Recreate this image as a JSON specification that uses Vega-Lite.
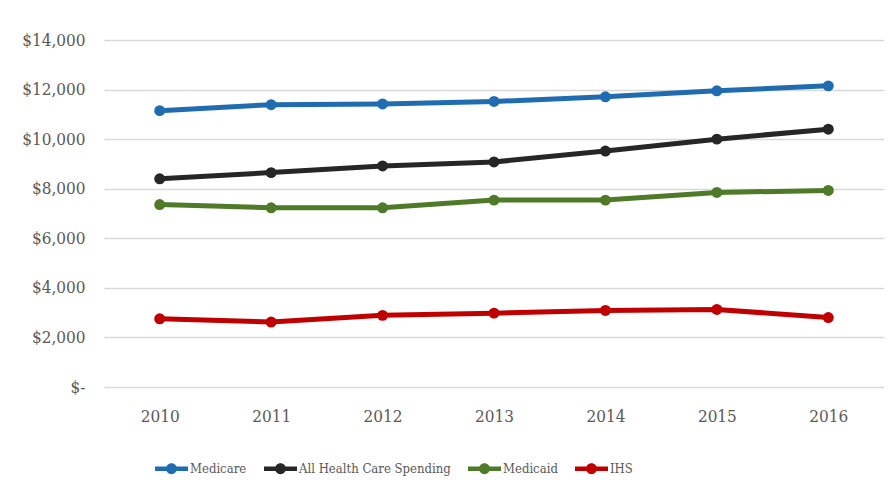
{
  "$schema": "https://vega.github.io/schema/vega-lite/v6.json",
  "autosize": "none",
  "width": 780,
  "height": 347,
  "padding": {"left": 104, "top": 40, "right": 12, "bottom": 115},
  "background": "white",
  "config": {
    "view": {"stroke": null},
    "font": "'DejaVu Serif Condensed', 'Liberation Serif', serif",
    "axis": {"labelFont": "'DejaVu Serif Condensed', 'Liberation Serif', serif", "labelFontSize": 17, "labelColor": "#595959", "ticks": false, "domain": false},
    "legend": {"labelFont": "'DejaVu Serif Condensed', 'Liberation Serif', serif", "labelFontSize": 13, "labelColor": "#595959", "labelLimit": 400}
  },
  "data": {
    "values": [
      {"year": "2010", "series": "Medicare", "value": 11150},
      {"year": "2011", "series": "Medicare", "value": 11390},
      {"year": "2012", "series": "Medicare", "value": 11420},
      {"year": "2013", "series": "Medicare", "value": 11520},
      {"year": "2014", "series": "Medicare", "value": 11710},
      {"year": "2015", "series": "Medicare", "value": 11950},
      {"year": "2016", "series": "Medicare", "value": 12150},
      {"year": "2010", "series": "All Health Care Spending", "value": 8400},
      {"year": "2011", "series": "All Health Care Spending", "value": 8650},
      {"year": "2012", "series": "All Health Care Spending", "value": 8920},
      {"year": "2013", "series": "All Health Care Spending", "value": 9080},
      {"year": "2014", "series": "All Health Care Spending", "value": 9520},
      {"year": "2015", "series": "All Health Care Spending", "value": 10000},
      {"year": "2016", "series": "All Health Care Spending", "value": 10400},
      {"year": "2010", "series": "Medicaid", "value": 7360},
      {"year": "2011", "series": "Medicaid", "value": 7230},
      {"year": "2012", "series": "Medicaid", "value": 7230},
      {"year": "2013", "series": "Medicaid", "value": 7540},
      {"year": "2014", "series": "Medicaid", "value": 7540},
      {"year": "2015", "series": "Medicaid", "value": 7850},
      {"year": "2016", "series": "Medicaid", "value": 7930},
      {"year": "2010", "series": "IHS", "value": 2750},
      {"year": "2011", "series": "IHS", "value": 2620},
      {"year": "2012", "series": "IHS", "value": 2890},
      {"year": "2013", "series": "IHS", "value": 2980},
      {"year": "2014", "series": "IHS", "value": 3090},
      {"year": "2015", "series": "IHS", "value": 3130},
      {"year": "2016", "series": "IHS", "value": 2800}
    ]
  },
  "encoding": {
    "x": {
      "field": "year", "type": "ordinal",
      "scale": {"type": "point", "padding": 0.5},
      "axis": {"title": null, "labelAngle": 0, "labelPadding": 21, "grid": false}
    },
    "y": {
      "field": "value", "type": "quantitative",
      "scale": {"domain": [0, 14000], "nice": false},
      "axis": {
        "title": null,
        "values": [0, 2000, 4000, 6000, 8000, 10000, 12000, 14000],
        "labelExpr": "datum.value == 0 ? '$-\u2007' : '$' + format(datum.value, ',')",
        "labelPadding": 19,
        "grid": true, "gridColor": "#d9d9d9", "gridWidth": 1.5
      }
    },
    "color": {
      "field": "series", "type": "nominal",
      "scale": {
        "domain": ["Medicare", "All Health Care Spending", "Medicaid", "IHS"],
        "range": ["#1f6cb0", "#262626", "#4f7a28", "#c00000"]
      },
      "legend": {
        "title": null,
        "orient": "none",
        "direction": "horizontal",
        "legendX": 51,
        "legendY": 412,
        "symbolType": "M-1,-0.14L1,-0.14L1,0.14L-1,0.14Z M-0.33,0A0.33,0.33,0,1,1,0.33,0A0.33,0.33,0,1,1,-0.33,0Z",
        "symbolSize": 1089,
        "symbolStrokeWidth": 0,
        "labelOffset": 2,
        "columnPadding": 17
      }
    }
  },
  "layer": [
    {"mark": {"type": "line", "strokeWidth": 5}},
    {"mark": {"type": "point", "filled": true, "opacity": 1, "size": 120}}
  ]
}
